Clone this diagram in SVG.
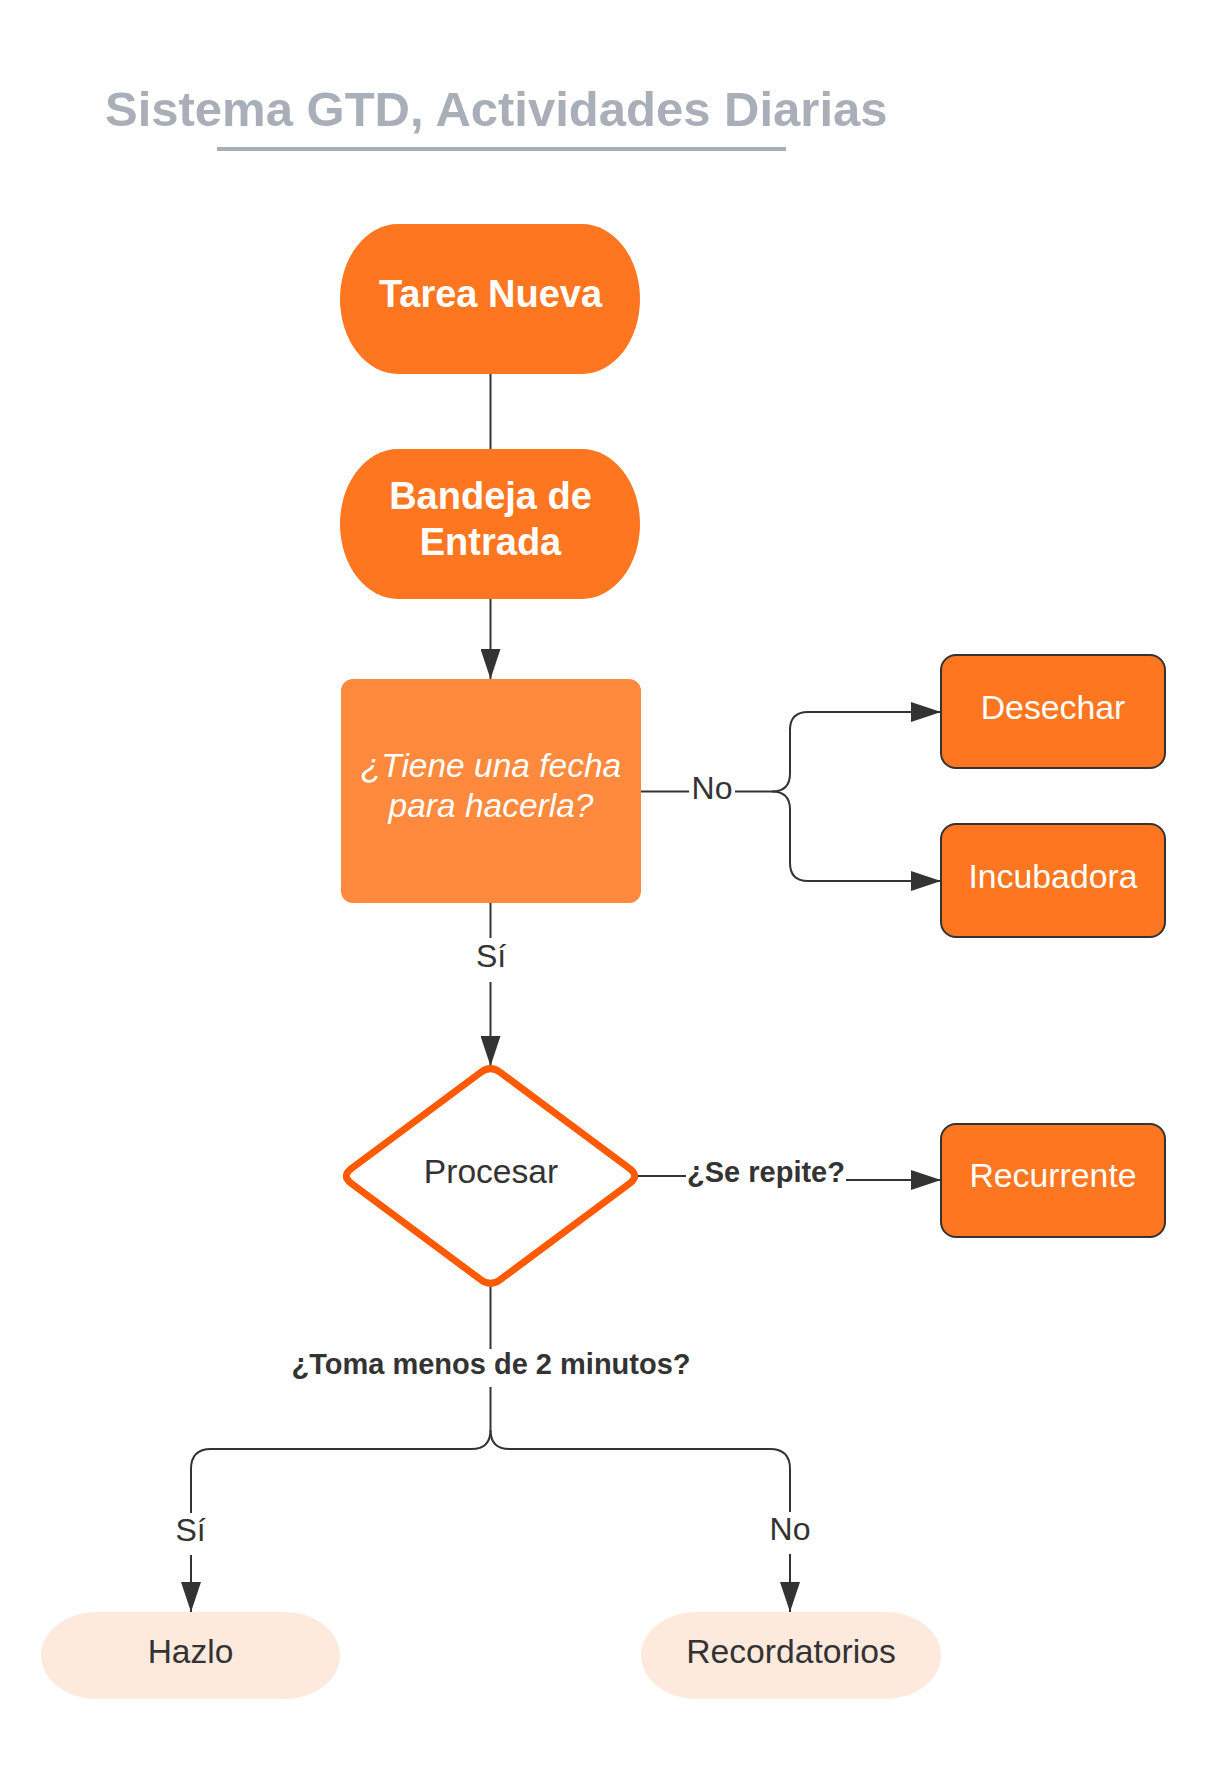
<svg xmlns="http://www.w3.org/2000/svg" width="1232" height="1766" viewBox="0 0 1232 1766">
<defs>
<style>
.t{font-family:"Liberation Sans",Arial,sans-serif;text-anchor:middle}
.w{fill:#ffffff}
.d{fill:#333333}
.b{font-weight:bold}
.c{fill:none;stroke:#333333;stroke-width:2}
.o{fill:#FF7620}
.ob{fill:#FF7620;stroke:#333333;stroke-width:2}
.p{fill:#FEEADD}
</style>
<marker id="ar" markerUnits="userSpaceOnUse" markerWidth="30" markerHeight="20" refX="30" refY="10" orient="auto">
<path d="M0,0 L30,10 L0,20 Z" fill="#333333"/>
</marker>
</defs>
<rect width="1232" height="1766" fill="#ffffff"/>
<g id="title">
<text class="t b" x="105" y="126" font-size="49" fill="#A9AFB9" style="text-anchor:start">Sistema GTD, Actividades Diarias</text>
<line x1="217" y1="149" x2="786" y2="149" stroke="#A9AFB9" stroke-width="4"/>
</g>
<g id="connectors">
<path class="c" d="M490.5 374 L490.5 449"/>
<path class="c" d="M490.5 599 L490.5 679" marker-end="url(#ar)"/>
<path class="c" d="M641 791.5 L689 791.5"/>
<path class="c" d="M735 791.5 L772 791.5"/>
<path class="c" d="M772 791.5 Q790 791.5 790 773.5 L790 730 Q790 712 808 712 L941 712" marker-end="url(#ar)"/>
<path class="c" d="M772 791.5 Q790 791.5 790 809.5 L790 863 Q790 881 808 881 L941 881" marker-end="url(#ar)"/>
<path class="c" d="M490.5 903 L490.5 938"/>
<path class="c" d="M490.5 982 L490.5 1066" marker-end="url(#ar)"/>
<path class="c" d="M637 1176 L686 1176"/>
<path class="c" d="M846 1180 L941 1180" marker-end="url(#ar)"/>
<path class="c" d="M490.5 1287 L490.5 1349"/>
<path class="c" d="M490.5 1387 L490.5 1430"/>
<path class="c" d="M490.5 1430 Q490.5 1449 471.5 1449 L211 1449 Q191 1449 191 1469 L191 1513"/>
<path class="c" d="M191 1555 L191 1612" marker-end="url(#ar)"/>
<path class="c" d="M490.5 1430 Q490.5 1449 509.5 1449 L770 1449 Q790 1449 790 1469 L790 1512"/>
<path class="c" d="M790 1554 L790 1612" marker-end="url(#ar)"/>
<text class="t d" x="712" y="799" font-size="32">No</text>
<text class="t d" x="491" y="967" font-size="32">Sí</text>
<text class="t d b" x="766" y="1182" font-size="29">¿Se repite?</text>
<text class="t d b" x="491" y="1374" font-size="29">¿Toma menos de 2 minutos?</text>
<text class="t d" x="190.5" y="1541" font-size="32">Sí</text>
<text class="t d" x="790" y="1540" font-size="32">No</text>
</g>
<g id="tarea-nueva">
<rect class="o" x="340" y="224" width="300" height="150" rx="58" ry="75"/>
<text class="t w b" x="490.5" y="307" font-size="38">Tarea Nueva</text>
</g>
<g id="bandeja">
<rect class="o" x="340" y="449" width="300" height="150" rx="58" ry="75"/>
<text class="t w b" x="490.5" y="509" font-size="38">Bandeja de</text>
<text class="t w b" x="490.5" y="555" font-size="38">Entrada</text>
</g>
<g id="fecha">
<rect x="341" y="679" width="300" height="224" rx="12" fill="#FF8A3D"/>
<text class="t w" x="491" y="777" font-size="33.5" font-style="italic">¿Tiene una fecha</text>
<text class="t w" x="491" y="817" font-size="33.5" font-style="italic">para hacerla?</text>
</g>
<g id="desechar">
<rect class="ob" x="941" y="655" width="224" height="113" rx="15"/>
<text class="t w" x="1053" y="719" font-size="33.8">Desechar</text>
</g>
<g id="incubadora">
<rect class="ob" x="941" y="824" width="224" height="113" rx="15"/>
<text class="t w" x="1053" y="888" font-size="33.8">Incubadora</text>
</g>
<g id="procesar">
<path d="M500.1 1072.2 L629.9 1168.8 Q639.5 1176 629.9 1183.2 L500.1 1279.8 Q490.5 1287 480.9 1279.8 L351.1 1183.2 Q341.5 1176 351.1 1168.8 L480.9 1072.2 Q490.5 1065 500.1 1072.2 Z" fill="#ffffff" stroke="#FF5A00" stroke-width="7" stroke-linejoin="round"/>
<text class="t d" x="491" y="1183" font-size="33.6">Procesar</text>
</g>
<g id="recurrente">
<rect class="ob" x="941" y="1124" width="224" height="113" rx="15"/>
<text class="t w" x="1053" y="1187" font-size="33.8">Recurrente</text>
</g>
<g id="hazlo">
<rect class="p" x="41" y="1612" width="299" height="87" rx="56" ry="43.5"/>
<text class="t d" x="190.5" y="1663" font-size="33.5">Hazlo</text>
</g>
<g id="recordatorios">
<rect class="p" x="641" y="1612" width="300" height="87" rx="56" ry="43.5"/>
<text class="t d" x="791" y="1663" font-size="33.7">Recordatorios</text>
</g>
</svg>
